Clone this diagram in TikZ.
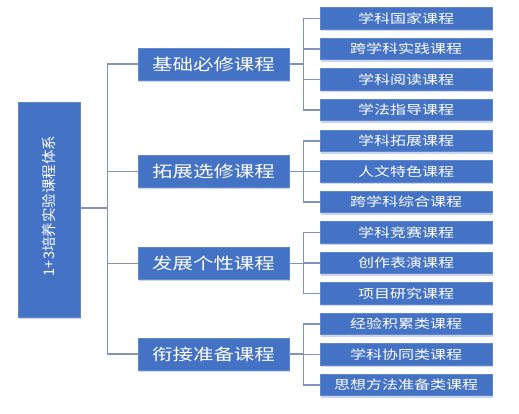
\documentclass[tikz,border=0pt]{standalone}
\usepackage{fontspec}
\setmainfont{Noto Sans CJK SC}
\usetikzlibrary{shadows}
\definecolor{boxblue}{HTML}{4472C4}
\definecolor{linegray}{HTML}{7F93BF}
\definecolor{glow}{HTML}{B4C4E4}
\newcommand{\wide}[1]{\scalebox{1.28}[1]{#1}}
\begin{document}
\begin{tikzpicture}[x=1pt,y=-1pt,
 boxbase/.style={fill=boxblue, draw=boxblue!85!white, line width=0.6pt, text=white, inner sep=0pt,
   drop shadow={shadow xshift=0.8pt, shadow yshift=-1.8pt, fill=glow, opacity=0.7}},
 rootbox/.style={boxbase, minimum width=62pt, minimum height=215pt},
 mainbox/.style={boxbase, minimum width=151pt, minimum height=32pt, font=\fontsize{16}{16}\selectfont},
 subbox/.style={boxbase, minimum width=172pt, minimum height=21.5pt, font=\fontsize{12.5}{12.5}\selectfont},
 link/.style={draw=linegray, line width=1.1pt}]
\fill[white] (0,0) rectangle (519,414);
\useasboundingbox (0,0) rectangle (519,414);

% root
\node[rootbox] (root) at (49,209.5) {};
\node[rotate=90, text=white, font=\fontsize{14.5}{14.5}\selectfont] (roottext) at (49,206) {1+3培养实验课程体系};

% level 1
\node[mainbox] (m1) at (213.5,64) {\wide{基础必修课程}};
\node[mainbox] (m2) at (213.5,171.5) {\wide{拓展选修课程}};
\node[mainbox] (m3) at (213.5,263.5) {\wide{发展个性课程}};
\node[mainbox] (m4) at (213.5,354) {\wide{衔接准备课程}};

% level 2
\node[subbox] (s1) at (406,18.5) {\wide{学科国家课程}};
\node[subbox] (s2) at (406,49) {\wide{跨学科实践课程}};
\node[subbox] (s3) at (406,79.5) {\wide{学科阅读课程}};
\node[subbox] (s4) at (406,110) {\wide{学法指导课程}};
\node[subbox] (s5) at (406,141) {\wide{学科拓展课程}};
\node[subbox] (s6) at (406,171.5) {\wide{人文特色课程}};
\node[subbox] (s7) at (406,202) {\wide{跨学科综合课程}};
\node[subbox] (s8) at (406,232.5) {\wide{学科竞赛课程}};
\node[subbox] (s9) at (406,263) {\wide{创作表演课程}};
\node[subbox] (s10) at (406,293.5) {\wide{项目研究课程}};
\node[subbox] (s11) at (406,324) {\wide{经验积累类课程}};
\node[subbox] (s12) at (406,354.5) {\wide{学科协同类课程}};
\node[subbox] (s13) at (406,385) {\wide{思想方法准备类课程}};

% root to level 1
\coordinate (trunk) at (108,208);
\draw[link] (root.east |- trunk) -- (trunk);
\draw[link] (m1.west) -- ++(-30,0) |- (m4.west);
\draw[link] (m2.west) -- ++(-30,0);
\draw[link] (m3.west) -- ++(-30,0);

% group 1
\draw[link] (m1.east) -- ++(15,0);
\draw[link] (s1.west) -- ++(-16,0) |- (s4.west);
\draw[link] (s2.west) -- ++(-16,0);
\draw[link] (s3.west) -- ++(-16,0);
% group 2
\draw[link] (m2.east) -- ++(15,0);
\draw[link] (s5.west) -- ++(-16,0) |- (s7.west);
\draw[link] (s6.west) -- ++(-16,0);
% group 3
\draw[link] (m3.east) -- ++(15,0);
\draw[link] (s8.west) -- ++(-16,0) |- (s10.west);
\draw[link] (s9.west) -- ++(-16,0);
% group 4
\draw[link] (m4.east) -- ++(15,0);
\draw[link] (s11.west) -- ++(-16,0) |- (s13.west);
\draw[link] (s12.west) -- ++(-16,0);
\end{tikzpicture}
\end{document}
